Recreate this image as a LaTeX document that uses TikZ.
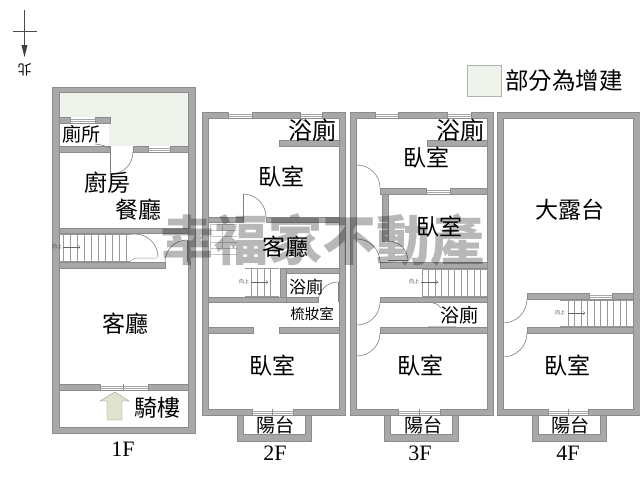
\documentclass[tikz,border=0pt]{standalone}
\usepackage{fontspec}
\setmainfont{Liberation Serif}
\newfontfamily\cjk{Noto Sans CJK TC}
\definecolor{wallGray}{HTML}{A8A8A8}
\definecolor{edgeGray}{HTML}{8C8C8C}
\definecolor{addedGreen}{HTML}{EDF2EB}
\definecolor{arrowGreen}{HTML}{DFE2CC}

\newcommand{\windowGap}[4]{
  \fill [white] (#1,#3) rectangle (#2,#4);
  \draw [paneLine] (#1,#3+1.8) -- (#2,#3+1.8) (#1,#4-1.8) -- (#2,#4-1.8);
  \draw [wallEnd] (#1,#3) -- (#1,#4) (#2,#3) -- (#2,#4);
}
\newcommand{\stairRun}[5]{
  \draw [stairLine] (#1,#3) -- (#2,#3) (#1,#4) -- (#2,#4);
  \foreach \stepX in {#5} {\draw [stairLine] (\stepX,#3) -- (\stepX,#4);}
}

\begin{document}
\begin{tikzpicture}
    [x = 1pt, y = -1pt,
     wallBlock/.style = {fill = wallGray, draw = edgeGray, line width = 0.5pt},
     wallEnd/.style = {draw = edgeGray, line width = 0.5pt},
     paneLine/.style = {draw = gray!70, line width = 0.4pt},
     doorLeaf/.style = {draw = gray, line width = 0.6pt},
     stairLine/.style = {draw = gray!80, line width = 0.5pt},
     faintLine/.style = {draw = gray!45, line width = 0.4pt},
     walkArrow/.style = {draw = gray!80!black, line width = 0.4pt, ->},
     roomLabel/.style = {inner sep = 0pt, font = \cjk\fontsize{23}{23}\selectfont},
     bathLabel/.style = {inner sep = 0pt, font = \cjk\fontsize{17}{17}\selectfont},
     porchLabel/.style = {inner sep = 0pt, font = \cjk\fontsize{19}{19}\selectfont},
     floorLabel/.style = {inner sep = 0pt, font = \fontsize{22}{22}\selectfont},
     upLabel/.style = {inner sep = 0pt, text = gray!60!black, font = \cjk\fontsize{5}{5}\selectfont}]

    \useasboundingbox (0,0) rectangle (640,480);

    % north mark
    \draw [line width = 0.5pt, gray!60!black] (13,31) -- (37,31);
    \draw [line width = 0.5pt, gray!60!black] (24.5,10) -- (24.5,46);
    \fill [gray!50!black] (21.5,45) -- (27.5,45) -- (24.5,57) -- cycle;
    \node at (24.5,70) [inner sep = 0pt, rotate = 180, font = \cjk\fontsize{14}{14}\selectfont] (northMark) {北};

    % legend
    \draw [fill = addedGreen, draw = gray!60] (467,65) rectangle (501,96);
    \node at (564,81) [inner sep = 0pt, font = \cjk\fontsize{23.5}{23.5}\selectfont] (legendText) {部分為增建};

    % 1F
    \fill [addedGreen] (59,92) rectangle (188,146);
    \fill [white] (59,123) rectangle (109,146);
    \draw [wallBlock, even odd rule] (52,87) rectangle (195,433) (59,92) rectangle (188,427);
    \draw [wallBlock] (59,117) rectangle (110,123);
    \windowGap{70}{95}{117}{123}
    \draw [wallBlock] (59,146) rectangle (110,152);
    \draw [wallBlock] (133,146) rectangle (188,152);
    \windowGap{148}{170}{146}{152}
    \draw [doorLeaf] (95,144) .. controls (102,145) .. (110,148);
    \draw [doorLeaf] (110,152) -- (110,174);
    \draw [doorLeaf] (133,152) arc [start angle = 0, end angle = -90, radius = 22pt];
    \draw [wallBlock] (59,228) rectangle (188,233);
    \stairRun{59}{130}{234.5}{261.5}{63,70,77,84,91,98,105,112,119,126}
    \draw [stairLine] (130,234.5) -- (135,234) (130,261.5) -- (135,258) -- (157,258);
    \draw [doorLeaf] (135,234) arc [start angle = 90, end angle = 0, radius = 23pt];
    \draw [walkArrow] (63,247) -- (80,247);
    \node at (57,247) [upLabel] (upOne) {向上};
    \draw [wallBlock] (59,262) rectangle (165,268);
    \draw [wallBlock] (188,262) rectangle (190,268);
    \draw [doorLeaf] (165,262) arc [start angle = 180, end angle = 90, radius = 22pt];
    \draw [doorLeaf] (187,240) -- (187,262);
    \draw [wallBlock] (59,384) rectangle (188,390);
    \windowGap{100}{148}{384}{390}
    \draw [wallEnd] (123,384) -- (123,390);
    \draw [fill = arrowGreen, draw = gray!80] (115,392) -- (129,401) -- (122,401) -- (122,420) -- (107,420) -- (107,401) -- (100,401) -- cycle;
    \node at (81,134) [inner sep = 0pt, font = \cjk\fontsize{19}{19}\selectfont] (toiletOne) {廁所};
    \node at (107,183) [roomLabel] (kitchenOne) {廚房};
    \node at (138,210) [roomLabel] (diningOne) {餐廳};
    \node at (125,324) [roomLabel] (livingOne) {客廳};
    \node at (157,408) [roomLabel] (arcadeOne) {騎樓};
    \node at (123,449) [floorLabel] (floorOne) {1F};

    % 2F
    \draw [wallBlock, even odd rule] (202,112) rectangle (345,415) (208,118) rectangle (339,409);
    \windowGap{228}{252}{112}{118}
    \windowGap{300}{322}{112}{118}
    \draw [wallBlock] (279,140) rectangle (339,146);
    \draw [doorLeaf] (300,118) -- (306,122);
    \draw [wallBlock] (208,217) rectangle (243,222);
    \draw [wallBlock] (266,217) rectangle (339,222);
    \draw [doorLeaf] (243,222) -- (243,194);
    \draw [doorLeaf] (243,194) arc [start angle = 90, end angle = 0, radius = 23pt];
    \foreach \stepY in {224,230,236,242,248,254} {\draw [faintLine] (210,\stepY) -- (237,\stepY);}
    \draw [faintLine] (210,224) -- (210,257) (222,224) -- (222,250);
    \stairRun{245}{279}{268}{296}{251,257.5,264,270.5}
    \draw [walkArrow] (251,282) -- (268,282);
    \node at (244,282) [upLabel] (upTwo) {向上};
    \draw [wallBlock] (280,268) rectangle (339,273);
    \draw [wallBlock] (280,268) rectangle (286,302);
    \draw [wallBlock] (208,297) rectangle (286,302);
    \draw [wallBlock] (286,297) rectangle (318,302);
    \draw [doorLeaf] (318,302) arc [start angle = 180, end angle = 90, radius = 20pt];
    \draw [doorLeaf] (338,282) -- (338,302);
    \draw [wallBlock] (208,327) rectangle (253,333);
    \draw [wallBlock] (279,327) rectangle (339,333);
    \windowGap{252}{293}{409}{415}
    \draw [wallEnd] (272,409) -- (272,415);
    \draw [wallBlock] (237,415) -- (237,441) -- (311,441) -- (311,415) -- (305,415) -- (305,434) -- (243,434) -- (243,415) -- cycle;
    \node at (312,130) [roomLabel, font = \cjk\fontsize{24}{24}\selectfont] (bathTwoA) {浴廁};
    \node at (281,177) [roomLabel] (bedTwoA) {臥室};
    \node at (285,247) [roomLabel] (livingTwo) {客廳};
    \node at (306,287) [bathLabel] (bathTwoB) {浴廁};
    \node at (312,314) [inner sep = 0pt, font = \cjk\fontsize{14.5}{14.5}\selectfont] (dressTwo) {梳妝室};
    \node at (272,366) [roomLabel] (bedTwoB) {臥室};
    \node at (275,425) [porchLabel] (porchTwo) {陽台};
    \node at (275,453) [floorLabel] (floorTwo) {2F};

    % 3F
    \draw [wallBlock, even odd rule] (350,112) rectangle (493,415) (356,118) rectangle (487,409);
    \windowGap{375}{398}{112}{118}
    \windowGap{447}{471}{112}{118}
    \draw [wallBlock] (427,140) rectangle (487,146);
    \draw [wallBlock] (380,188) rectangle (487,194);
    \windowGap{426}{450}{188}{194}
    \draw [doorLeaf] (380,188) arc [start angle = 0, end angle = 90, radius = 23pt];
    \draw [wallBlock] (382,194) rectangle (388,241);
    \draw [wallBlock] (380,262) rectangle (487,268);
    \draw [doorLeaf] (380,262) arc [start angle = 0, end angle = 90, radius = 23pt];
    \draw [doorLeaf] (408,261) arc [start angle = 0, end angle = 90, radius = 20pt];
    \draw [doorLeaf] (388,260.5) -- (408,260.5);
    \stairRun{422}{487}{269}{296}{422,428.5,435,441.5,448,454.5,461,467.5,474,480.5}
    \draw [walkArrow] (421,282) -- (438,282);
    \node at (414,282) [upLabel] (upThree) {向上};
    \draw [wallBlock] (380,297) rectangle (487,302);
    \draw [doorLeaf] (380,302) arc [start angle = 0, end angle = -90, radius = 23pt];
    \draw [doorLeaf] (433,303) .. controls (437,304) .. (441,308);
    \draw [wallBlock] (380,327) rectangle (487,333);
    \draw [doorLeaf] (380,333) arc [start angle = 0, end angle = -90, radius = 23pt];
    \draw [faintLine] (428,326) -- (456,326);
    \windowGap{398}{440}{409}{415}
    \draw [wallEnd] (419,409) -- (419,415);
    \draw [wallBlock] (384,415) -- (384,441) -- (458,441) -- (458,415) -- (452,415) -- (452,434) -- (390,434) -- (390,415) -- cycle;
    \node at (460,130) [roomLabel, font = \cjk\fontsize{24}{24}\selectfont] (bathThreeA) {浴廁};
    \node at (426,158) [roomLabel] (bedThreeA) {臥室};
    \node at (439,227) [roomLabel] (bedThreeB) {臥室};
    \node at (459,315) [porchLabel] (bathThreeB) {浴廁};
    \node at (420,366) [roomLabel] (bedThreeC) {臥室};
    \node at (423,425) [porchLabel] (porchThree) {陽台};
    \node at (420,453) [floorLabel] (floorThree) {3F};

    % 4F
    \draw [wallBlock, even odd rule] (497,112) rectangle (640,415) (503,118) rectangle (633,409);
    \draw [wallBlock] (527,293) rectangle (633,299);
    \windowGap{589}{612}{293}{299}
    \stairRun{560}{633}{300}{326.5}{568,574.5,581,587.5,594,600.5,607,613.5,620,626.5}
    \draw [walkArrow] (568,313) -- (585,313);
    \node at (560,313) [upLabel] (upFour) {向上};
    \draw [doorLeaf] (527,299) arc [start angle = 0, end angle = -90, radius = 24pt];
    \draw [wallBlock] (527,327) rectangle (633,333);
    \draw [doorLeaf] (527,333) arc [start angle = 0, end angle = -90, radius = 24pt];
    \windowGap{548}{588}{409}{415}
    \draw [wallEnd] (568,409) -- (568,415);
    \draw [wallBlock] (532,415) -- (532,441) -- (606,441) -- (606,415) -- (600,415) -- (600,434) -- (538,434) -- (538,415) -- cycle;
    \node at (570,210) [roomLabel] (terraceFour) {大露台};
    \node at (567,366) [roomLabel] (bedFour) {臥室};
    \node at (570,425) [porchLabel] (porchFour) {陽台};
    \node at (568,453) [floorLabel] (floorFour) {4F};

    % watermark
    \node at (322,240) [inner sep = 0pt, black, opacity = 0.28, font = \cjk\bfseries\fontsize{54}{54}\selectfont] (stampText) {幸福家不動產};
\end{tikzpicture}
\end{document}
